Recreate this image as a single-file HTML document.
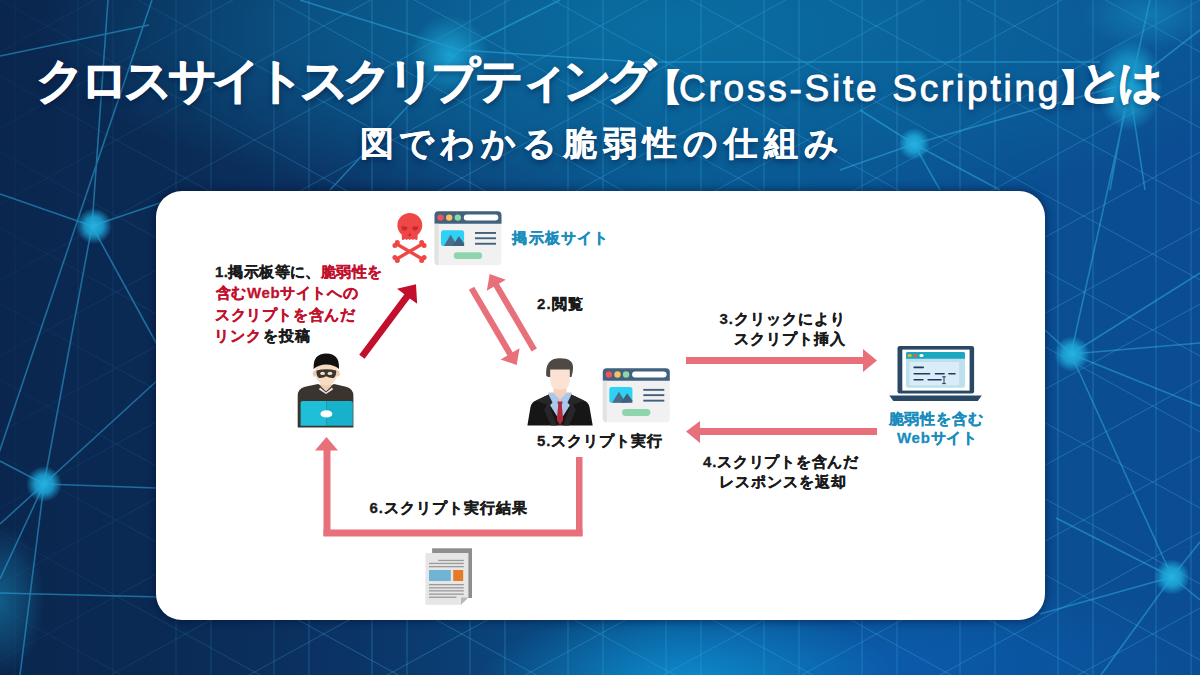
<!DOCTYPE html>
<html lang="ja">
<head>
<meta charset="utf-8">
<style>
*{margin:0;padding:0;box-sizing:border-box}
html,body{width:1200px;height:675px;overflow:hidden}
body{position:relative;font-family:"Liberation Sans",sans-serif;background:#0b2a55}
#bg{position:absolute;left:0;top:0;width:1200px;height:675px}
.t{position:absolute;white-space:nowrap;line-height:1}
.title{color:#fff;font-weight:bold;-webkit-text-stroke:0.9px #fff;text-shadow:0 3px 6px rgba(0,20,60,.6)}
.lat{font-weight:normal;-webkit-text-stroke:0.9px #fff}
.sub{color:#fff;font-size:34px;font-weight:bold;letter-spacing:5.7px;-webkit-text-stroke:0.3px #fff;text-shadow:0 3px 6px rgba(0,20,60,.6)}
#card{position:absolute;left:156px;top:191px;width:889px;height:429px;background:#fff;border-radius:26px;box-shadow:0 0 8px 1px rgba(0,12,45,.55)}
.b{font-weight:bold;color:#1a1a1a;-webkit-text-stroke:0.3px currentColor}
.r{color:#c3102c}
.teal{color:#1a8dbd}
svg{position:absolute;left:0;top:0}
</style>
</head>
<body>
<svg id="bg" width="1200" height="675" viewBox="0 0 1200 675">
<defs>
<linearGradient id="g0" x1="0" y1="0" x2="1" y2="0">
<stop offset="0" stop-color="#0a264e"/>
<stop offset="0.15" stop-color="#0a2b55"/>
<stop offset="0.3" stop-color="#0b3466"/>
<stop offset="0.45" stop-color="#0a4880"/>
<stop offset="0.55" stop-color="#08558e"/>
<stop offset="0.75" stop-color="#0a5090"/>
<stop offset="1" stop-color="#0b4c92"/>
</linearGradient>
<radialGradient id="gTop" cx="0.5" cy="0.5" r="0.5">
<stop offset="0" stop-color="#0a6fa2" stop-opacity="0.95"/>
<stop offset="0.6" stop-color="#0a6a9e" stop-opacity="0.55"/>
<stop offset="1" stop-color="#0a6a9e" stop-opacity="0"/>
</radialGradient>
<radialGradient id="gBot" cx="0.5" cy="0.5" r="0.5">
<stop offset="0" stop-color="#0e8ccc" stop-opacity="0.95"/>
<stop offset="1" stop-color="#0e8ccc" stop-opacity="0"/>
</radialGradient>
<radialGradient id="gRB" cx="0.5" cy="0.5" r="0.5">
<stop offset="0" stop-color="#0b5cb0" stop-opacity="0.8"/>
<stop offset="1" stop-color="#0b5cb0" stop-opacity="0"/>
</radialGradient>
<radialGradient id="gNode" cx="0.5" cy="0.5" r="0.5">
<stop offset="0" stop-color="#27b2e0" stop-opacity="1"/>
<stop offset="0.5" stop-color="#1ea8da" stop-opacity="0.85"/>
<stop offset="1" stop-color="#1ea8da" stop-opacity="0"/>
</radialGradient>
<radialGradient id="gSoft" cx="0.5" cy="0.5" r="0.5">
<stop offset="0" stop-color="#1aa6d6" stop-opacity="0.95"/>
<stop offset="0.5" stop-color="#1a9ccc" stop-opacity="0.55"/>
<stop offset="1" stop-color="#1a9ccc" stop-opacity="0"/>
</radialGradient>
<linearGradient id="lmg" x1="0" y1="0" x2="1" y2="0">
<stop offset="0" stop-color="#fff" stop-opacity="0.15"/>
<stop offset="0.12" stop-color="#fff" stop-opacity="0.35"/>
<stop offset="0.3" stop-color="#fff" stop-opacity="1"/>
<stop offset="1" stop-color="#fff" stop-opacity="1"/>
</linearGradient>
<mask id="lm" maskUnits="userSpaceOnUse" x="0" y="0" width="1200" height="675"><rect width="1200" height="675" fill="url(#lmg)"/></mask>
<radialGradient id="gBig" cx="0.5" cy="0.5" r="0.5">
<stop offset="0" stop-color="#1ca8d8" stop-opacity="1"/>
<stop offset="0.55" stop-color="#1a9ed0" stop-opacity="0.75"/>
<stop offset="1" stop-color="#1a9ed0" stop-opacity="0"/>
</radialGradient>
</defs>
<rect width="1200" height="675" fill="url(#g0)"/>
<ellipse cx="680" cy="30" rx="640" ry="190" fill="url(#gTop)"/>
<ellipse cx="900" cy="660" rx="330" ry="90" fill="url(#gRB)"/>
<ellipse cx="690" cy="680" rx="210" ry="75" fill="url(#gBot)"/>
<ellipse cx="0" cy="600" rx="45" ry="75" fill="url(#gSoft)" opacity="0.45"/>
<path d="M-20 0V675 M15 0V675 M78 0V675 M113 0V675 M176 0V675 M211 0V675 M274 0V675 M309 0V675 M372 0V675 M407 0V675 M470 0V675 M505 0V675 M568 0V675 M603 0V675 M666 0V675 M701 0V675 M764 0V675 M799 0V675 M862 0V675 M897 0V675 M960 0V675 M995 0V675 M1058 0V675 M1093 0V675 M1156 0V675 M1191 0V675 M0 -3040.0L1200 -2380.0 M0 -2380.0L1200 -3040.0 M0 -2964.0L1200 -2304.0 M0 -2304.0L1200 -2964.0 M0 -2888.0L1200 -2228.0 M0 -2228.0L1200 -2888.0 M0 -2812.0L1200 -2152.0 M0 -2152.0L1200 -2812.0 M0 -2736.0L1200 -2076.0 M0 -2076.0L1200 -2736.0 M0 -2660.0L1200 -2000.0 M0 -2000.0L1200 -2660.0 M0 -2584.0L1200 -1924.0 M0 -1924.0L1200 -2584.0 M0 -2508.0L1200 -1848.0 M0 -1848.0L1200 -2508.0 M0 -2432.0L1200 -1772.0 M0 -1772.0L1200 -2432.0 M0 -2356.0L1200 -1696.0 M0 -1696.0L1200 -2356.0 M0 -2280.0L1200 -1620.0 M0 -1620.0L1200 -2280.0 M0 -2204.0L1200 -1544.0 M0 -1544.0L1200 -2204.0 M0 -2128.0L1200 -1468.0 M0 -1468.0L1200 -2128.0 M0 -2052.0L1200 -1392.0 M0 -1392.0L1200 -2052.0 M0 -1976.0L1200 -1316.0 M0 -1316.0L1200 -1976.0 M0 -1900.0L1200 -1240.0 M0 -1240.0L1200 -1900.0 M0 -1824.0L1200 -1164.0 M0 -1164.0L1200 -1824.0 M0 -1748.0L1200 -1088.0 M0 -1088.0L1200 -1748.0 M0 -1672.0L1200 -1012.0 M0 -1012.0L1200 -1672.0 M0 -1596.0L1200 -936.0 M0 -936.0L1200 -1596.0 M0 -1520.0L1200 -860.0 M0 -860.0L1200 -1520.0 M0 -1444.0L1200 -784.0 M0 -784.0L1200 -1444.0 M0 -1368.0L1200 -708.0 M0 -708.0L1200 -1368.0 M0 -1292.0L1200 -632.0 M0 -632.0L1200 -1292.0 M0 -1216.0L1200 -556.0 M0 -556.0L1200 -1216.0 M0 -1140.0L1200 -480.0 M0 -480.0L1200 -1140.0 M0 -1064.0L1200 -404.0 M0 -404.0L1200 -1064.0 M0 -988.0L1200 -328.0 M0 -328.0L1200 -988.0 M0 -912.0L1200 -252.0 M0 -252.0L1200 -912.0 M0 -836.0L1200 -176.0 M0 -176.0L1200 -836.0 M0 -760.0L1200 -100.0 M0 -100.0L1200 -760.0 M0 -684.0L1200 -24.0 M0 -24.0L1200 -684.0 M0 -608.0L1200 52.0 M0 52.0L1200 -608.0 M0 -532.0L1200 128.0 M0 128.0L1200 -532.0 M0 -456.0L1200 204.0 M0 204.0L1200 -456.0 M0 -380.0L1200 280.0 M0 280.0L1200 -380.0 M0 -304.0L1200 356.0 M0 356.0L1200 -304.0 M0 -228.0L1200 432.0 M0 432.0L1200 -228.0 M0 -152.0L1200 508.0 M0 508.0L1200 -152.0 M0 -76.0L1200 584.0 M0 584.0L1200 -76.0 M0 0.0L1200 660.0 M0 660.0L1200 0.0 M0 76.0L1200 736.0 M0 736.0L1200 76.0 M0 152.0L1200 812.0 M0 812.0L1200 152.0 M0 228.0L1200 888.0 M0 888.0L1200 228.0 M0 304.0L1200 964.0 M0 964.0L1200 304.0 M0 380.0L1200 1040.0 M0 1040.0L1200 380.0 M0 456.0L1200 1116.0 M0 1116.0L1200 456.0 M0 532.0L1200 1192.0 M0 1192.0L1200 532.0 M0 608.0L1200 1268.0 M0 1268.0L1200 608.0 M0 684.0L1200 1344.0 M0 1344.0L1200 684.0 M0 760.0L1200 1420.0 M0 1420.0L1200 760.0 M0 836.0L1200 1496.0 M0 1496.0L1200 836.0 M0 912.0L1200 1572.0 M0 1572.0L1200 912.0 M0 988.0L1200 1648.0 M0 1648.0L1200 988.0 M0 1064.0L1200 1724.0 M0 1724.0L1200 1064.0 M0 1140.0L1200 1800.0 M0 1800.0L1200 1140.0 M0 1216.0L1200 1876.0 M0 1876.0L1200 1216.0 M0 1292.0L1200 1952.0 M0 1952.0L1200 1292.0 M0 1368.0L1200 2028.0 M0 2028.0L1200 1368.0 M0 1444.0L1200 2104.0 M0 2104.0L1200 1444.0 M0 1520.0L1200 2180.0 M0 2180.0L1200 1520.0 M0 1596.0L1200 2256.0 M0 2256.0L1200 1596.0 M0 1672.0L1200 2332.0 M0 2332.0L1200 1672.0 M0 1748.0L1200 2408.0 M0 2408.0L1200 1748.0 M0 1824.0L1200 2484.0 M0 2484.0L1200 1824.0 M0 1900.0L1200 2560.0 M0 2560.0L1200 1900.0 M0 1976.0L1200 2636.0 M0 2636.0L1200 1976.0 M0 2052.0L1200 2712.0 M0 2712.0L1200 2052.0 M0 2128.0L1200 2788.0 M0 2788.0L1200 2128.0 M0 2204.0L1200 2864.0 M0 2864.0L1200 2204.0 M0 2280.0L1200 2940.0 M0 2940.0L1200 2280.0 M0 2356.0L1200 3016.0 M0 3016.0L1200 2356.0 M0 2432.0L1200 3092.0 M0 3092.0L1200 2432.0 M0 2508.0L1200 3168.0 M0 3168.0L1200 2508.0 M0 2584.0L1200 3244.0 M0 3244.0L1200 2584.0 M0 2660.0L1200 3320.0 M0 3320.0L1200 2660.0 M0 2736.0L1200 3396.0 M0 3396.0L1200 2736.0 M0 2812.0L1200 3472.0 M0 3472.0L1200 2812.0 M0 2888.0L1200 3548.0 M0 3548.0L1200 2888.0 M0 2964.0L1200 3624.0 M0 3624.0L1200 2964.0 M0 3040.0L1200 3700.0 M0 3700.0L1200 3040.0 M0 3116.0L1200 3776.0 M0 3776.0L1200 3116.0 M0 3192.0L1200 3852.0 M0 3852.0L1200 3192.0 M0 3268.0L1200 3928.0 M0 3928.0L1200 3268.0 M0 3344.0L1200 4004.0 M0 4004.0L1200 3344.0 M0 3420.0L1200 4080.0 M0 4080.0L1200 3420.0 M0 3496.0L1200 4156.0 M0 4156.0L1200 3496.0 M0 3572.0L1200 4232.0 M0 4232.0L1200 3572.0 M0 3648.0L1200 4308.0 M0 4308.0L1200 3648.0 M0 3724.0L1200 4384.0 M0 4384.0L1200 3724.0 M0 3800.0L1200 4460.0 M0 4460.0L1200 3800.0 M0 3876.0L1200 4536.0 M0 4536.0L1200 3876.0 M0 3952.0L1200 4612.0 M0 4612.0L1200 3952.0 M0 4028.0L1200 4688.0 M0 4688.0L1200 4028.0 M0 4104.0L1200 4764.0 M0 4764.0L1200 4104.0 M0 4180.0L1200 4840.0 M0 4840.0L1200 4180.0 M0 4256.0L1200 4916.0 M0 4916.0L1200 4256.0 M0 4332.0L1200 4992.0 M0 4992.0L1200 4332.0 M0 4408.0L1200 5068.0 M0 5068.0L1200 4408.0 M0 4484.0L1200 5144.0 M0 5144.0L1200 4484.0" stroke="#39a6dc" stroke-opacity="0.4" stroke-width="1" fill="none" mask="url(#lm)"/>
<path d="M152 0L-76 675 M92 226L108 0 M92 226L44 484 M92 226L160 350 M92 226L160 203 M92 226L0 194 M0 56L149 25 M160 378L44 484 M44 484L0 524 M44 484L0 461 M44 484L156 488 M44 484L0 579 M44 484L20 675 M0 593L160 597 M1150 0L1071 354 M1071 354L1172 577 M1071 354L1200 273 M1071 354L1200 343 M1071 354L1200 406 M1071 354L1045 330 M1172 577L1040 614 M1172 577L1101 675 M1172 577L1200 542 M1172 577L1200 600 M1172 577L1056 518 M914 144L1132 82 M914 144L840 170 M914 144L860 110 M914 144L1000 190 M914 144L940 190 M1129 85L1200 30 M1129 85L1110 190 M1129 85L1145 190 M460 50L330 190 M460 50L560 0 M460 50L640 62 M640 62L1100 62 M460 50L300 0" stroke="#2ea8de" stroke-opacity="0.55" stroke-width="1.6" fill="none"/>
<circle cx="94" cy="226" r="18" fill="url(#gNode)"/>
<circle cx="44" cy="484" r="18" fill="url(#gNode)"/>
<circle cx="1072" cy="354" r="18" fill="url(#gNode)"/>
<circle cx="1172" cy="577" r="18" fill="url(#gNode)"/>
<circle cx="914" cy="144" r="16" fill="url(#gNode)"/>
<circle cx="450" cy="55" r="40" fill="url(#gSoft)"/>
<ellipse cx="1150" cy="15" rx="70" ry="35" fill="url(#gSoft)" opacity="0.45"/>
<ellipse cx="1129" cy="85" rx="34" ry="46" fill="url(#gBig)"/>
</svg>

<div class="t title" id="t1" style="left:36.40px;top:57.00px;font-size:48px;letter-spacing:-5.13px">クロスサイトスクリプティング</div>
<div class="t title" id="t2" style="left:645.70px;top:70.00px;font-size:36px;letter-spacing:-22.50px">【</div>
<div class="t title lat" id="t3" style="left:679.00px;top:69.80px;font-size:37px;letter-spacing:2.76px">Cross-Site Scripting</div>
<div class="t title" id="t4" style="left:1058.80px;top:69.80px;font-size:36px;letter-spacing:-16.20px">】</div>
<div class="t title" id="t5" style="left:1078.00px;top:60.00px;font-size:44px;letter-spacing:-5.10px">とは</div>
<div class="t sub" id="t6" style="left:359.50px;top:125.85px;font-size:34px;letter-spacing:5.94px">図でわかる脆弱性の仕組み</div>

<div id="card"></div>

<!-- diagram layer -->
<svg width="1200" height="675" viewBox="0 0 1200 675">

<defs>
<g id="brw">
<rect x="434.5" y="211.3" width="67" height="54" rx="4" fill="#f1f1f1"/>
<path d="M438.5 211.3 H497.5 A4 4 0 0 1 501.5 215.3 V223.8 H434.5 V215.3 A4 4 0 0 1 438.5 211.3Z" fill="#41617f"/>
<path d="M434.5 223.8 H438.5 V265.3 H438.5 A4 4 0 0 1 434.5 261.3Z" fill="#e2e2e2"/>
<circle cx="440.6" cy="217.6" r="3.2" fill="#f1525b"/>
<circle cx="449.2" cy="217.6" r="3.2" fill="#fbbf62"/>
<circle cx="457.8" cy="217.6" r="3.2" fill="#8fd7a9"/>
<rect x="463.8" y="214.6" width="34.5" height="5.9" rx="2.95" fill="#fff"/>
<rect x="441" y="230.2" width="23.1" height="15.7" rx="2.5" fill="#2fd1f4"/>
<polygon points="443.9,245.9 450.6,234.8 457.5,245.9" fill="#4c6a89"/>
<polygon points="452.5,245.9 458.8,236.3 464.1,243.5 464.1,245.9" fill="#40607e"/>
<rect x="475" y="232" width="21" height="1.9" fill="#41617f"/>
<rect x="475" y="237.3" width="21" height="1.9" fill="#41617f"/>
<rect x="475" y="242.8" width="21" height="1.9" fill="#41617f"/>
<rect x="453.8" y="252.2" width="28.3" height="6.9" rx="3.45" fill="#8ed5ad"/>
</g>
</defs>
<use href="#brw"/>
<use href="#brw" transform="translate(168.3,156.9)"/>

<!-- skull -->
<g fill="#ef4646">
<circle cx="409.8" cy="225.3" r="12.4"/>
<path d="M401.8 230 H417.6 V238.5 Q417.6 240 416 240 L414.6 239 L413 240 L411.4 239 L409.8 240 L408.2 239 L406.6 240 L405 239 L403.4 240 Q401.8 240 401.8 238.5Z"/>
<g stroke="#ef4646" stroke-width="3.3" stroke-linecap="round">
<line x1="397.5" y1="244.5" x2="421.5" y2="258.5"/>
<line x1="421.5" y1="244.5" x2="397.5" y2="258.5"/>
</g>
<circle cx="394.9" cy="245.6" r="2.5"/><circle cx="397.3" cy="242.5" r="2.5"/>
<circle cx="424.1" cy="245.6" r="2.5"/><circle cx="421.7" cy="242.5" r="2.5"/>
<circle cx="394.9" cy="257.4" r="2.5"/><circle cx="397.3" cy="260.5" r="2.5"/>
<circle cx="424.1" cy="257.4" r="2.5"/><circle cx="421.7" cy="260.5" r="2.5"/>
</g>
<g fill="#c82b2e">
<path d="M401.2 226.6 Q404.6 225.6 407.6 227.2 Q407 230.6 404.4 230.6 Q401.6 230.4 401.2 226.6Z"/>
<path d="M418.4 226.6 Q415 225.6 412 227.2 Q412.6 230.6 415.2 230.6 Q418 230.4 418.4 226.6Z"/>
<polygon points="409.8,232.4 411.4,236 408.2,236"/>
</g>

<!-- hacker -->
<path d="M297.7 427.6 V396 Q297.7 388.5 305 386.8 L318 384 L326 388 L334 384 L346 386.8 Q353.4 388.5 353.4 396 V427.6Z" fill="#3b332d"/>
<path d="M320.5 378 H331.5 V386 L326 391.5 L320.5 386Z" fill="#efcfae"/>
<path d="M320 387.5 L326 392.5 L332 387.5 L333 389.5 L326 394 L319 389.5Z" fill="#e6e6ee"/>
<ellipse cx="326.3" cy="372" rx="11.2" ry="13.5" fill="#f7dcc2"/>
<ellipse cx="314.8" cy="373.5" rx="2" ry="3" fill="#f0cda8"/>
<ellipse cx="337.8" cy="373.5" rx="2" ry="3" fill="#f0cda8"/>
<path d="M313.6 369 Q312.8 353.6 326.3 353.6 Q339.8 353.6 339 369 Q334 364.5 326.3 364.5 Q318.6 364.5 313.6 369Z" fill="#111"/>
<path d="M316.5 370.5 Q326.3 368 336.2 370.5 Q336.5 376.5 333.5 378 Q329.5 378.5 326.3 376.3 Q323 378.5 319.2 378 Q316 376.5 316.5 370.5Z" fill="#3a3733"/>
<ellipse cx="322.6" cy="373.4" rx="2.4" ry="1.6" fill="#f6dcc0"/>
<ellipse cx="330" cy="373.4" rx="2.4" ry="1.6" fill="#f6dcc0"/>
<path d="M300.6 425.7 V403 Q300.6 400.9 302.7 400.9 H326.6 V425.7Z" fill="#1fbfd9"/>
<path d="M326.6 400.9 H350.7 Q352.8 400.9 352.8 403 V425.7 H326.6Z" fill="#17b1cc"/>
<ellipse cx="326.4" cy="413.9" rx="6" ry="3.6" fill="#fff"/>

<!-- businessman -->
<path d="M527.4 425.4 L530.5 407 Q531.5 402 536 400.5 L549 394.5 H571 L584 400.5 Q588.5 402 589.5 407 L592.7 425.4Z" fill="#161616"/>
<path d="M548.5 392.5 H571.5 L572 402 L560 421 L548 402Z" fill="#aac9ea"/>
<path d="M553.5 384 H566.5 V393 L560 399.5 L553.5 393Z" fill="#f5d0bb"/>
<path d="M550.2 367 H569.8 V381 Q569.8 389.5 560 389.5 Q550.2 389.5 550.2 381Z" fill="#fce2d3"/>
<path d="M546.3 376 Q544.5 358.3 560 358.3 Q573.5 358.3 573 368 Q573 372 571.5 377 L569.8 377 V369.5 H550.2 V377 L548.3 377Z" fill="#4f4944"/>
<path d="M557.3 401.5 H562.7 L561.8 405 L563.2 420 L560 425.2 L556.8 420 L558.2 405Z" fill="#b3283a"/>
<path d="M536 400.5 L548.5 394.5 L552.5 402.5 L549.5 406 L557 425.4 L551 425.4 L544 410 L547 405Z" fill="#272727"/>
<path d="M584 400.5 L571.5 394.5 L567.5 402.5 L570.5 406 L563 425.4 L569 425.4 L576 410 L573 405Z" fill="#272727"/>
<!-- laptop -->
<rect x="897.5" y="346" width="76.6" height="47.5" rx="2.2" fill="#294864"/>
<rect x="902.3" y="349.6" width="67.3" height="41" fill="#fff"/>
<rect x="906" y="352" width="59" height="35.7" rx="1.6" fill="#bde0ed"/>
<path d="M907.6 352 H963.4 Q965 352 965 353.6 V358.7 H906 V353.6 Q906 352 907.6 352Z" fill="#1aa7bf"/>
<rect x="909.6" y="362" width="49.6" height="23.3" fill="#d9ecf8"/>
<ellipse cx="909.6" cy="355.4" rx="2.1" ry="1.5" fill="#f6b70f"/>
<ellipse cx="915.4" cy="355.4" rx="2.1" ry="1.5" fill="#ef5d2c"/>
<ellipse cx="921.5" cy="355.4" rx="2.1" ry="1.5" fill="#fff"/>
<g fill="#1e3d5a">
<rect x="913.4" y="366.6" width="10.6" height="1.6" rx=".8"/>
<rect x="913.4" y="373" width="17" height="1.6" rx=".8"/>
<rect x="934.6" y="373" width="10.3" height="1.6" rx=".8"/>
<rect x="948.1" y="373" width="7.7" height="1.6" rx=".8"/>
<rect x="913.4" y="379" width="10.3" height="1.6" rx=".8"/>
<rect x="927.4" y="379" width="14.4" height="1.6" rx=".8"/>
<rect x="943.5" y="376.6" width="1" height="7"/>
<rect x="942.2" y="376.3" width="3.6" height="1"/>
<rect x="942.2" y="383.1" width="3.6" height="1"/>
</g>
<path d="M889.3 395.4 H981.8 L977.8 400.9 H893.3Z" fill="#294864"/>

<!-- document -->
<rect x="432.1" y="548.3" width="39.9" height="49.7" fill="#8e8e8e"/>
<path d="M425.4 553 H468.4 V597.6 L461 604.8 H425.4Z" fill="#e6e6e6"/>
<path d="M461 604.8 L468.4 597.6 H461Z" fill="#b9b9b9"/>
<g fill="#9a9a9a">
<rect x="438.3" y="559.8" width="25.5" height="1.3"/>
<rect x="429" y="562.8" width="34.8" height="1.3"/>
<rect x="429" y="566" width="34.8" height="1.3"/>
<rect x="429" y="584" width="34.8" height="1.3"/>
<rect x="429" y="587.2" width="34.8" height="1.3"/>
<rect x="429" y="590.2" width="34.8" height="1.3"/>
<rect x="429" y="593.5" width="34.8" height="1.3"/>
<rect x="429" y="596.6" width="27.5" height="1.3"/>
</g>
<rect x="429" y="570" width="21.8" height="11" fill="#6fb5d3"/>
<rect x="453.2" y="570" width="10" height="11" fill="#e57b26"/>

<!-- red arrow -->
<polygon fill="#c20f2b" points="359.2,354.7 364.6,358.7 409.8,298.4 417.15,303.85 416,284.3 397.05,288.85 404.4,294.3"/>
<!-- two pink diagonal arrows -->
<g fill="#e8707a">
<polygon points="468.88,289.77 474.22,286.63 512.74,352.24 519.55,348.24 516.7,365.1 500.59,359.38 507.4,355.38"/>
<polygon points="531.57,351.62 536.93,348.48 499,283.64 505.81,279.66 489.7,273.9 486.83,290.77 493.64,286.78"/>
</g>
<g fill="#e8707a">
<!-- right arrow -->
<rect x="686" y="357" width="178" height="7"/>
<polygon points="863,349 877,360.5 863,372"/>
<!-- left arrow -->
<rect x="699" y="428" width="178" height="7"/>
<polygon points="700,421 686,431.5 700,443"/>
<!-- U arrow -->
<rect x="323.5" y="449" width="7" height="87"/>
<polygon points="315,450.5 326.5,437 338,450.5"/>
<rect x="323.5" y="529.5" width="259" height="7"/>
<rect x="576" y="457" width="6.5" height="79"/>
</g>
</svg>

<div class="t b" id="a1" style="left:215.00px;top:264.25px;font-size:15px;letter-spacing:0.41px">1.掲示板等に、<span class="r">脆弱性を</span></div>
<div class="t b r" id="a2" style="left:215.90px;top:284.95px;font-size:15px;letter-spacing:0.60px">含むWebサイトへの</div>
<div class="t b r" id="a3" style="left:214.90px;top:306.65px;font-size:15px;letter-spacing:0.62px">スクリプトを含んだ</div>
<div class="t b" id="a4" style="left:213.90px;top:328.45px;font-size:15px;letter-spacing:1.26px"><span class="r">リンク</span>を投稿</div>
<div class="t b teal" id="b1" style="left:512.40px;top:229.85px;font-size:15px;letter-spacing:1.19px">掲示板サイト</div>
<div class="t b" id="c1" style="left:537.10px;top:295.70px;font-size:15px;letter-spacing:1.17px">2.閲覧</div>
<div class="t b" id="d1" style="left:719.50px;top:310.50px;font-size:15px;letter-spacing:0.98px">3.クリックにより</div>
<div class="t b" id="d2" style="left:733.90px;top:331.40px;font-size:15px;letter-spacing:0.99px">スクリプト挿入</div>
<div class="t b" id="e1" style="left:703.10px;top:453.50px;font-size:15px;letter-spacing:0.75px">4.スクリプトを含んだ</div>
<div class="t b" id="e2" style="left:718.50px;top:473.50px;font-size:15px;letter-spacing:1.09px">レスポンスを返却</div>
<div class="t b" id="f1" style="left:537.00px;top:432.80px;font-size:15px;letter-spacing:0.93px">5.スクリプト実行</div>
<div class="t b" id="g1" style="left:369.40px;top:499.95px;font-size:15px;letter-spacing:0.99px">6.スクリプト実行結果</div>
<div class="t b teal" id="h1" style="left:888.50px;top:411.00px;font-size:15px;letter-spacing:0.99px">脆弱性を含む</div>
<div class="t b teal" id="h2" style="left:897.00px;top:429.55px;font-size:15px;letter-spacing:0.72px">Webサイト</div>
</body>
</html>
